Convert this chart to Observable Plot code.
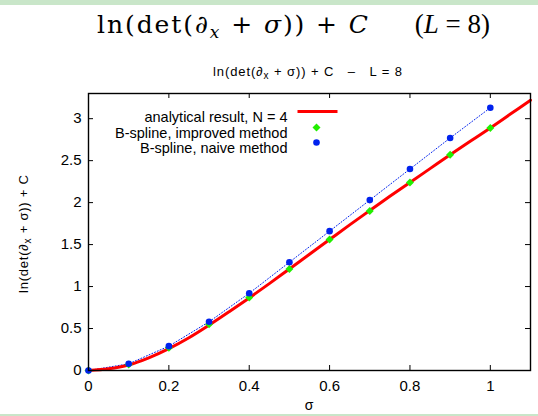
<!DOCTYPE html>
<html>
<head>
<meta charset="utf-8">
<script src="https://cdn.jsdelivr.net/npm/d3@7"></script>
<script src="https://cdn.jsdelivr.net/npm/@observablehq/plot@0.6"></script>
<style>
  html, body { margin: 0; padding: 0; background: #fff; }
  #wrap { position: relative; width: 538px; height: 416px; overflow: hidden; }
  .band { position: absolute; left: 0; width: 538px; background: #c9e6c9; }
  #plot, #over { position: absolute; left: 0; top: 0; }
  #over text { white-space: pre; }
  #xlab { position: absolute; left: 309px; top: 405px; transform: translate(-50%, -50%);
          font-family: "Liberation Sans", Arial, sans-serif; font-size: 14px; }
</style>
</head>
<body>
<div id="wrap">
  <div id="plot"></div>
  <svg id="over" width="538" height="416" xmlns="http://www.w3.org/2000/svg" xml:space="preserve">
    <g font-family="'DejaVu Serif', 'Liberation Serif', serif" font-size="25" fill="#000">
      <text x="97" y="33" textLength="271" lengthAdjust="spacing">ln(det(∂<tspan font-style="italic" font-size="17" dy="5">x</tspan><tspan dy="-5"> + </tspan><tspan font-style="italic">σ</tspan>)) + <tspan font-style="italic">C</tspan></text>
    </g>
    <text x="490" y="33" text-anchor="end" font-family="'Liberation Serif', serif" font-size="27" fill="#000">(<tspan font-style="italic">L</tspan> = 8)</text>
    <g font-family="'Liberation Sans', Arial, sans-serif" font-size="13" fill="#000">
      <text x="213" y="76" textLength="189" lengthAdjust="spacing">ln(det(∂<tspan font-size="10" dy="3">x</tspan><tspan dy="-3"> + σ)) + C   –   L = 8</tspan></text>
      <text transform="translate(28,234) rotate(-90)" text-anchor="middle" textLength="118" lengthAdjust="spacing">ln(det(∂<tspan font-size="10" dy="3">x</tspan><tspan dy="-3"> + σ)) + C</tspan></text>
    </g>
  </svg>
  <div class="band" style="top:0;height:5px"></div>
  <div class="band" style="top:414px;height:2px"></div>
  <div id="xlab">σ</div>
</div>
<script>
// ---- data ----
const sigma = [0, 0.1, 0.2, 0.3, 0.4, 0.5, 0.6, 0.7, 0.8, 0.9, 1.0];
const improved = [0, 0.07, 0.27, 0.55, 0.87, 1.21, 1.56, 1.90, 2.24, 2.57, 2.89];
const naive = [0, 0.08, 0.29, 0.58, 0.92, 1.29, 1.66, 2.03, 2.40, 2.77, 3.13];
const analyticSigma = [0, 0.05, 0.1, 0.15, 0.2, 0.25, 0.3, 0.35, 0.4, 0.45, 0.5, 0.55,
                       0.6, 0.65, 0.7, 0.75, 0.8, 0.85, 0.9, 0.95, 1.0, 1.05, 1.1];
const analytic = [0, 0.02, 0.065, 0.15, 0.26, 0.39, 0.54, 0.70, 0.865, 1.035, 1.21, 1.385,
                  1.56, 1.735, 1.905, 2.075, 2.24, 2.405, 2.57, 2.73, 2.89, 3.055, 3.22];
const xTicks = [0, 0.2, 0.4, 0.6, 0.8, 1];
const yTicks = [0, 0.5, 1, 1.5, 2, 2.5, 3];
const legendLabels = ["analytical result, N = 4", "B-spline, improved method", "B-spline, naive method"];

const analyticData = analyticSigma.map((s, i) => ({s, v: analytic[i]}));
const improvedData = sigma.map((s, i) => ({s, v: improved[i]}));
const naiveData = sigma.map((s, i) => ({s, v: naive[i]}));

const RED = "#ff0000", GREEN = "#22ee00", BLUE = "#0022ee";
const W = 538, H = 416, mL = 88, mR = 8, mT = 93, mB = 46;
const frameH = H - mT - mB, TK = 5;

const lineSymbol = { draw(ctx, size) { ctx.moveTo(-20, 0); ctx.lineTo(20, 0); } };

const chart = Plot.plot({
  width: W, height: H,
  marginLeft: mL, marginRight: mR, marginTop: mT, marginBottom: mB,
  style: { fontFamily: "'Liberation Sans', Arial, sans-serif", fontSize: "15px", background: "transparent", color: "#000" },
  x: { domain: [0, 1.1] },
  y: { domain: [0, 3.3] },
  marks: [
    Plot.axisX(xTicks, { tickSize: 0, tickPadding: 10, tickFormat: d => String(d), label: null, fontSize: 15 }),
    Plot.axisY(yTicks, { tickSize: 0, tickPadding: 7, tickFormat: d => String(d), label: null, fontSize: 15 }),
    // inward ticks (bottom / top / left / right)
    Plot.ruleX(xTicks, { x: d => d, insetTop: frameH - TK, stroke: "#000", strokeWidth: 1 }),
    Plot.ruleX(xTicks, { x: d => d, insetBottom: frameH - TK, stroke: "#000", strokeWidth: 1 }),
    Plot.ruleY(yTicks, { y: d => d, insetRight: (W - mL - mR) - TK, stroke: "#000", strokeWidth: 1 }),
    Plot.ruleY(yTicks, { y: d => d, insetLeft: (W - mL - mR) - TK, stroke: "#000", strokeWidth: 1 }),
    // data
    Plot.line(naiveData, { x: "s", y: "v", stroke: BLUE, strokeWidth: 1, strokeDasharray: "1,2" }),
    Plot.line(analyticData, { x: "s", y: "v", stroke: RED, strokeWidth: 3, curve: "catmull-rom" }),
    Plot.dot(improvedData, { x: "s", y: "v", symbol: "diamond2", r: 3.6, fill: GREEN, stroke: "none" }),
    Plot.dot(naiveData, { x: "s", y: "v", symbol: "circle", r: 3.3, fill: BLUE, stroke: "none" }),
    // legend
    Plot.text([legendLabels[0]], { text: d => d, frameAnchor: "top-left", dx: 199, dy: 18, textAnchor: "end", fontSize: 14.5 }),
    Plot.text([legendLabels[1]], { text: d => d, frameAnchor: "top-left", dx: 199, dy: 34, textAnchor: "end", fontSize: 14.5 }),
    Plot.text([legendLabels[2]], { text: d => d, frameAnchor: "top-left", dx: 199, dy: 49, textAnchor: "end", fontSize: 14.5 }),
    Plot.dot([0], { frameAnchor: "top-left", dx: 229, dy: 18, symbol: lineSymbol, r: 3, stroke: RED, strokeWidth: 3, fill: "none" }),
    Plot.dot([0], { frameAnchor: "top-left", dx: 228, dy: 34, symbol: "diamond2", r: 3.6, fill: GREEN, stroke: "none" }),
    Plot.dot([0], { frameAnchor: "top-left", dx: 228, dy: 49, symbol: "circle", r: 3.3, fill: BLUE, stroke: "none" }),
    Plot.frame({ stroke: "#000", strokeWidth: 1.4 })
  ]
});
document.getElementById("plot").appendChild(chart);
</script>
</body>
</html>
